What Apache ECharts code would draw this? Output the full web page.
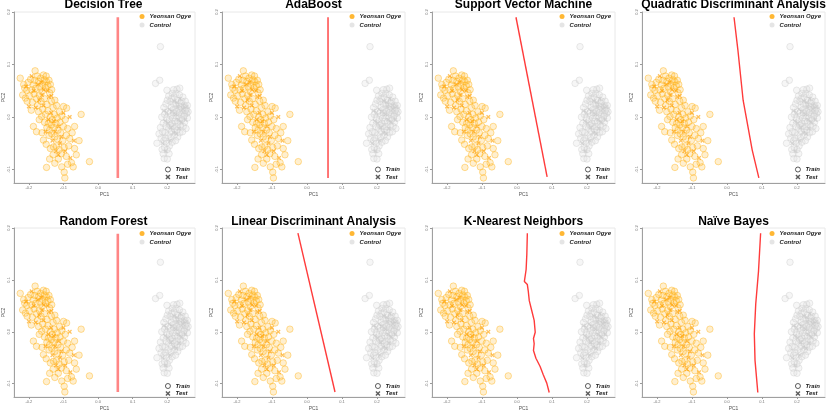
<!DOCTYPE html>
<html><head><meta charset="utf-8">
<script src="https://cdn.jsdelivr.net/npm/echarts@6/dist/echarts.min.js"></script>
<style>html,body{margin:0;padding:0;background:#fff}#c{width:827px;height:412px}</style>
</head><body><div id="c"></div>
<script>
const models = ['Decision Tree','AdaBoost','Support Vector Machine','Quadratic Discriminant Analysis','Random Forest','Linear Discriminant Analysis','K-Nearest Neighbors','Naïve Bayes'];
const xTickValues = [-2,-1,0,1,2];
const xTickLabels = ['-0.2','-0.1','0.0','0.1','0.2'];
const yTickValues = [-1,0,1,2];
const yTickLabels = ['-0.1','0.0','0.1','0.2'];

const orangeTrain = [[-2.25,0.74],[-1.82,0.88],[-1.76,0.78],[-2.06,0.51],[-2.10,0.36],[-1.49,0.67],[-1.34,0.52],[-1.93,0.13],[-1.87,-0.18],[-1.63,0.01],[-1.44,-0.12],[-1.25,0.32],[-0.91,0.17],[-0.49,0.05],[-0.68,-0.18],[-0.82,-0.41],[-0.25,-0.85],[-1.49,-0.96],[-0.96,-1.16],[-0.63,-0.72],[-0.77,-0.87],[-1.06,-0.70],[-1.29,-0.57],[-1.58,-0.44],
[-2.15,0.62],[-2.02,0.66],[-1.95,0.72],[-1.88,0.61],[-1.80,0.55],[-1.72,0.68],[-1.66,0.74],[-1.60,0.62],[-1.55,0.71],[-1.52,0.56],[-1.45,0.60],[-1.40,0.46],[-1.62,0.48],[-1.70,0.42],[-1.78,0.35],[-1.85,0.44],[-1.98,0.40],[-2.05,0.30],[-2.18,0.42],[-2.12,0.55],[-1.92,0.52],[-1.83,0.70],[-1.68,0.57],[-1.58,0.80],[-1.50,0.78],[-1.42,0.70],[-1.38,0.62],[-1.90,0.28],[-1.75,0.22],[-1.65,0.30],[-1.55,0.35],[-1.48,0.24],[-1.35,0.30],[-1.30,0.18],[-1.20,0.22],[-1.12,0.10],[-1.05,0.02],[-1.00,0.20],[-1.72,0.10],[-1.60,0.15],[-1.52,0.05],[-1.45,0.12],[-1.38,0.00],[-1.32,-0.05],[-1.26,0.05],[-1.18,-0.02],[-1.10,-0.10],[-1.55,-0.10],[-1.48,-0.20],[-1.40,-0.25],[-1.35,-0.15],[-1.28,-0.20],[-1.22,-0.12],[-1.16,-0.25],[-1.08,-0.30],[-1.00,-0.18],[-0.95,-0.05],[-0.88,-0.22],[-1.42,-0.35],[-1.34,-0.32],[-1.25,-0.38],[-1.18,-0.42],[-1.02,-0.45],[-0.92,-0.35],[-1.50,-0.52],[-1.38,-0.60],[-1.20,-0.55],[-1.12,-0.62],[-0.98,-0.58],[-0.85,-0.55],[-1.30,-0.72],[-1.15,-0.80],[-0.92,-0.75],[-0.88,-0.90],[-1.05,-0.95],[-0.72,-0.95],[-0.68,-0.60],[-0.75,-0.30],[-1.70,-0.05],[-1.78,-0.28],[-1.62,-0.30],[-0.55,-0.45],[-0.98,-1.05],[-1.25,-0.88],[-1.40,-0.80]];
const orangeTest = [[-2.08,0.58],[-1.86,0.50],[-1.74,0.62],[-1.64,0.66],[-1.57,0.52],[-1.46,0.50],[-1.92,0.78],[-1.70,0.32],[-1.58,0.22],[-1.42,0.38],[-1.36,0.08],[-1.28,-0.08],[-1.24,-0.28],[-1.14,-0.18],[-1.06,-0.38],[-1.44,-0.05],[-1.52,-0.28],[-1.32,-0.45],[-1.10,-0.50],[-0.95,-0.65],[-1.22,-0.65],[-0.80,-0.78],[-1.00,0.08],[-0.82,0.00],[-1.62,0.42],[-1.80,0.18],[-2.00,0.20],[-1.15,-0.72],[-0.70,-0.45],[-1.35,0.40]];
const grayTrain = [[1.80,1.34],[1.66,0.64],[1.78,0.70],[1.99,0.51],[2.28,0.53],[2.36,0.55],[1.70,-0.50],[1.91,-0.79],[1.85,-0.62],
[2.20,0.38],[2.30,0.32],[2.42,0.30],[2.48,0.22],[2.55,0.15],[2.56,0.07],[2.50,0.05],[2.44,0.12],[2.38,0.20],[2.32,0.15],[2.26,0.22],[2.18,0.25],[2.12,0.18],[2.08,0.30],[2.02,0.10],[2.10,0.02],[2.18,0.08],[2.25,0.02],[2.34,-0.02],[2.42,-0.05],[2.50,-0.10],[2.46,-0.18],[2.38,-0.15],[2.30,-0.10],[2.22,-0.08],[2.14,-0.12],[2.06,-0.05],[1.98,-0.02],[1.92,0.05],[1.88,-0.12],[1.96,-0.18],[2.04,-0.22],[2.12,-0.28],[2.20,-0.22],[2.28,-0.25],[2.36,-0.30],[2.30,-0.38],[2.20,-0.35],[2.10,-0.40],[2.02,-0.35],[1.94,-0.30],[1.86,-0.28],[1.82,-0.40],[1.90,-0.45],[1.98,-0.50],[2.06,-0.55],[2.14,-0.48],[2.00,-0.62],[1.92,-0.58],[1.88,-0.70],[2.05,-0.70],[1.80,-0.20],[1.84,0.00],[1.90,0.18],[1.96,0.25],[2.04,0.40],[2.14,0.45],[2.25,0.45],[2.35,0.42],[2.45,0.38],[2.52,0.30],[2.58,0.22],[2.60,0.10],[2.58,-0.02],[2.54,-0.22],[2.44,-0.28],[2.40,0.05],[2.34,0.08],[2.28,0.10],[2.22,0.15],[2.16,-0.02],[2.48,0.02],[2.52,0.12],[2.40,0.26],[2.12,0.35],[2.00,0.32],[1.76,-0.32],[2.16,-0.18],[2.26,-0.18],[2.08,-0.15],[1.94,-0.40],[2.24,-0.45],[2.18,0.52],[2.00,-0.80]];
const grayTest = [[2.28,0.28],[2.36,0.35],[2.46,0.15],[2.40,-0.10],[2.32,-0.05],[2.24,0.05],[2.14,0.10],[2.06,0.15],[1.98,0.08],[2.10,-0.20],[2.02,-0.12],[1.94,-0.08],[2.18,-0.30],[2.26,-0.32],[2.34,-0.22],[2.52,-0.05],[2.44,0.22],[2.20,0.30],[1.86,-0.50],[1.96,-0.65],[2.08,-0.45],[1.90,0.12],[2.30,0.20],[2.56,0.20]];

const dtLine = [[0.57,1.90],[0.57,-1.16]];
const adaLine = [[0.60,1.90],[0.60,-1.16]];
const svmLine = [[-0.03,1.90],[0.86,-1.14]];
const qdaLine = [[0.20,1.90],[0.31,1.28],[0.46,0.32],[0.72,-0.63],[0.91,-1.16]];
const rfLine = [[0.57,1.89],[0.57,-1.16]];
const ldaLine = [[-0.26,1.90],[0.80,-1.16]];
const knnLine = [[0.295,1.90],[0.28,1.49],[0.26,1.20],[0.21,0.97],[0.295,0.91],[0.32,0.79],[0.35,0.60],[0.42,0.41],[0.49,0.22],[0.52,-0.01],[0.47,-0.13],[0.49,-0.23],[0.47,-0.36],[0.54,-0.51],[0.66,-0.67],[0.75,-0.83],[0.85,-0.99],[0.92,-1.17]];
const nbLine = [[0.96,1.90],[0.90,1.17],[0.82,0.53],[0.78,-0.04],[0.80,-0.55],[0.88,-1.17]];
const boundaries = [dtLine, adaLine, svmLine, qdaLine, rfLine, ldaLine, knnLine, nbLine];

const crossPath = 'path://M2,0 L5,3 L8,0 L10,2 L7,5 L10,8 L8,10 L5,7 L2,10 L0,8 L3,5 L0,2 Z';
const W = 827;
const grids = [], xAxes = [], yAxes = [], titles = [], legends = [], series = [];
const ff = 'Liberation Sans, Arial, sans-serif';

models.forEach((m, i) => {
  const col = i % 4, row = Math.floor(i / 4);
  const left = 12 + 210 * col;
  const top = row === 0 ? 12 : 228;
  const h = row === 0 ? 171 : 172;
  grids.push({left: left, top: top, width: 183, height: h, show: true, borderColor: '#e8e8e8', borderWidth: 1, backgroundColor: '#fff'});
  xAxes.push({type: 'value', gridIndex: i, min: -2.43, max: 2.8,
    name: 'PC1', nameLocation: 'middle', nameGap: 9, nameTextStyle: {fontSize: 5, color: '#555', fontFamily: ff},
    axisLine: {show: true, onZero: false, lineStyle: {color: '#a0a0a0', width: 1}},
    axisTick: {show: true, length: 2, customValues: xTickValues, lineStyle: {color: '#999'}},
    axisLabel: {customValues: xTickValues, fontSize: 4, color: '#777', margin: 3, fontFamily: ff,
      formatter: v => xTickLabels[xTickValues.indexOf(v)]},
    splitLine: {show: false}});
  yAxes.push({type: 'value', gridIndex: i, min: -1.257, max: 2.0,
    name: 'PC2', nameLocation: 'middle', nameGap: 8, nameRotate: 90, nameTextStyle: {fontSize: 5, color: '#555', fontFamily: ff},
    axisLine: {show: true, onZero: false, lineStyle: {color: '#a0a0a0', width: 1}},
    axisTick: {show: true, length: 2, customValues: yTickValues, lineStyle: {color: '#999'}},
    axisLabel: {customValues: yTickValues, fontSize: 4, color: '#777', margin: 3, rotate: 90, fontFamily: ff,
      formatter: v => yTickLabels[yTickValues.indexOf(v)]},
    splitLine: {show: false}});
  titles.push({text: m, left: left + 91.5, top: row === 0 ? -1 : 215.5, textAlign: 'center', padding: 0,
    textStyle: {fontSize: 12, fontWeight: 'bold', color: '#000', fontFamily: ff}});
  const lr = W - (left + 179);
  const lstyle = {fontSize: 6, fontWeight: 'bold', fontStyle: 'italic', color: '#222', fontFamily: ff};
  legends.push({orient: 'vertical', right: lr, top: row === 0 ? 13.5 : 230.5, padding: 0, itemGap: 2.5,
    itemWidth: 5, itemHeight: 5, textStyle: lstyle, selectedMode: false,
    data: [{name: 'Yeonsan Ogye', icon: 'circle', itemStyle: {color: '#FFA500', borderWidth: 0}},
           {name: 'Control', icon: 'circle', itemStyle: {color: '#dedede', borderWidth: 0}}]});
  legends.push({orient: 'vertical', right: lr + 1, top: row === 0 ? 166.5 : 383, padding: 0, itemGap: 1.5,
    itemWidth: 5, itemHeight: 5, textStyle: lstyle, selectedMode: false,
    data: [{name: 'Train', icon: 'circle', itemStyle: {color: '#fff', borderColor: '#333', borderWidth: 1}},
           {name: 'Test', icon: crossPath, itemStyle: {color: '#333', borderWidth: 0}}]});

  const thick = (i === 0 || i === 4);
  series.push({type: 'line', xAxisIndex: i, yAxisIndex: i, data: boundaries[i], symbol: 'none', z: 1,
    lineStyle: {color: thick ? '#ff8585' : '#ff3b3b', width: thick ? 2.6 : 1.4}, silent: true});
  series.push({name: 'Control', type: 'scatter', xAxisIndex: i, yAxisIndex: i, data: grayTrain, symbol: 'circle', symbolSize: 6.5, z: 2,
    itemStyle: {color: 'rgba(222,222,222,0.35)', borderColor: 'rgba(205,205,205,0.65)', borderWidth: 0.8}});
  series.push({name: 'Control', type: 'scatter', xAxisIndex: i, yAxisIndex: i, data: grayTest, symbol: crossPath, symbolSize: 4.5, z: 2,
    itemStyle: {color: 'rgba(200,200,200,0.75)'}});
  series.push({name: 'Yeonsan Ogye', type: 'scatter', xAxisIndex: i, yAxisIndex: i, data: orangeTrain, symbol: 'circle', symbolSize: 6.5, z: 3,
    itemStyle: {color: 'rgba(255,195,70,0.32)', borderColor: 'rgba(255,170,0,0.6)', borderWidth: 0.8}});
  series.push({name: 'Yeonsan Ogye', type: 'scatter', xAxisIndex: i, yAxisIndex: i, data: orangeTest, symbol: crossPath, symbolSize: 4.5, z: 3,
    itemStyle: {color: 'rgba(255,160,0,0.8)'}});
});
series.push({name: 'Train', type: 'scatter', xAxisIndex: 0, yAxisIndex: 0, data: [], symbol: 'circle', itemStyle: {color: '#fff', borderColor: '#333', borderWidth: 1}});
series.push({name: 'Test', type: 'scatter', xAxisIndex: 0, yAxisIndex: 0, data: [], symbol: crossPath, itemStyle: {color: '#333'}});

const chart = echarts.init(document.getElementById('c'), null, {renderer: 'canvas'});
chart.setOption({animation: false, backgroundColor: '#fff', title: titles, legend: legends, grid: grids, xAxis: xAxes, yAxis: yAxes, series: series});
</script></body></html>
